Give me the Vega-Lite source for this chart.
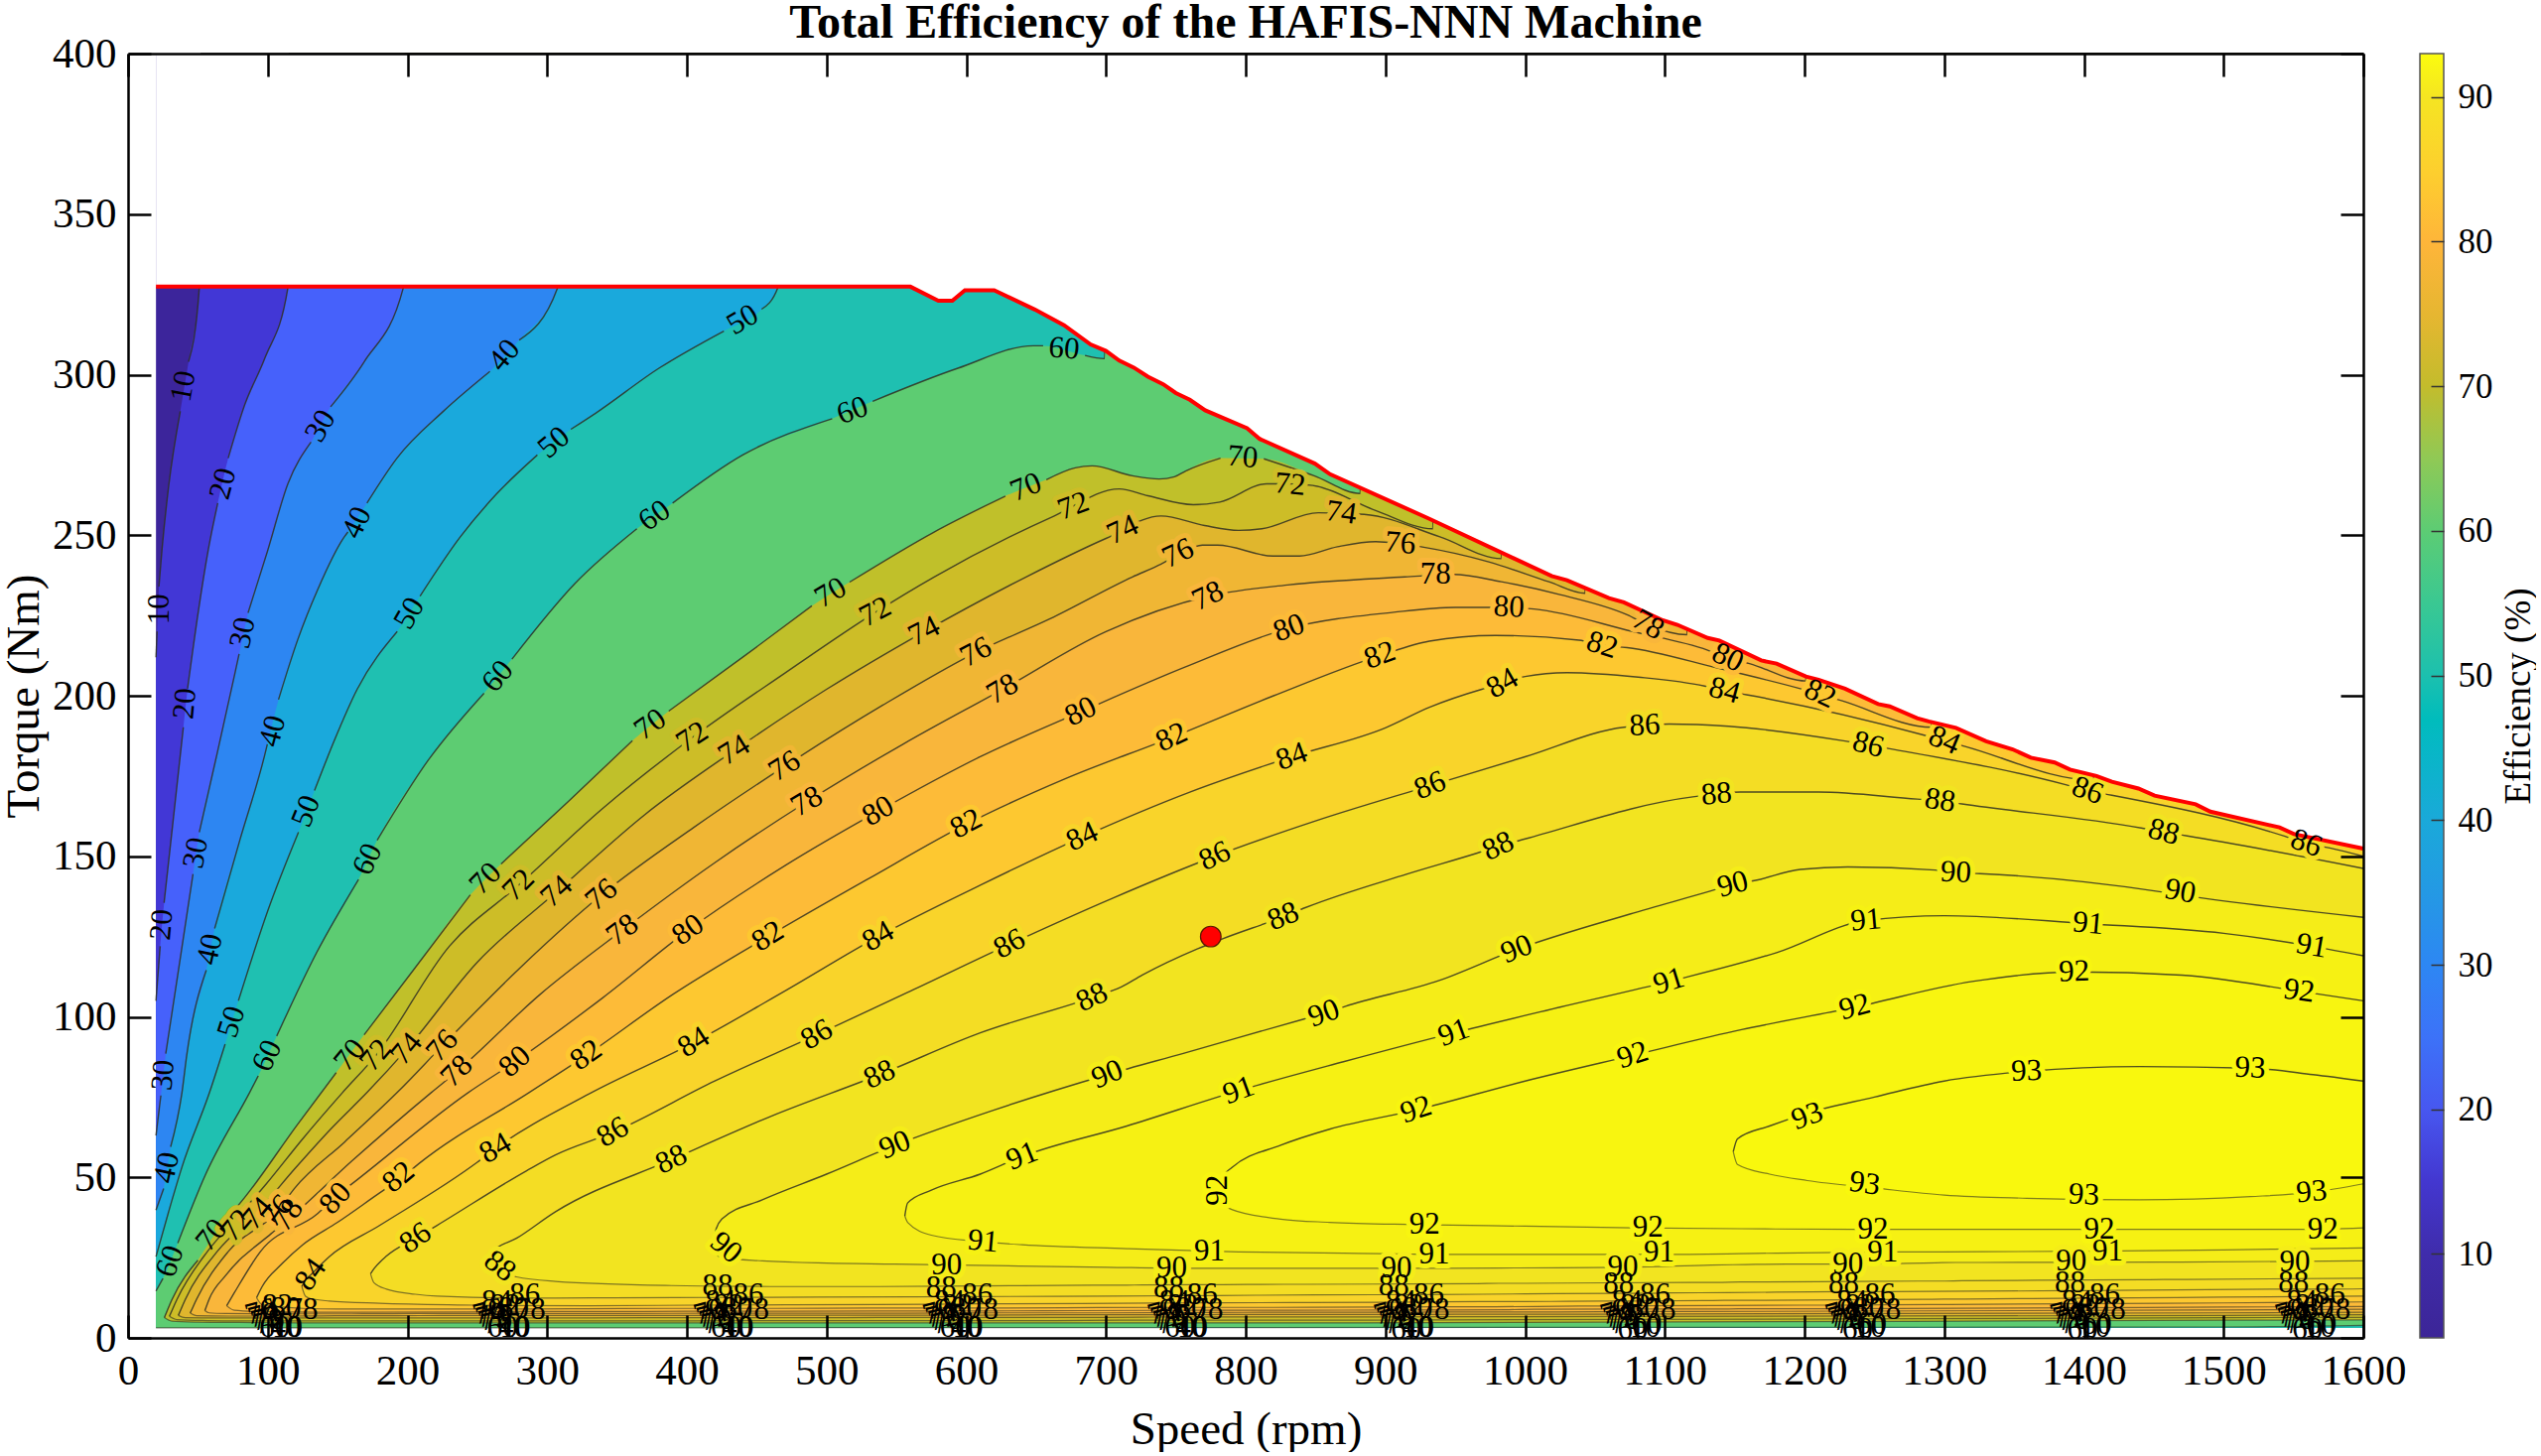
{
"$schema":"https://vega.github.io/schema/vega-lite/v6.json",
"background":"white",
"padding":{"left":0,"top":0,"right":0,"bottom":0},
"bounds":"flush",
"spacing":57,
"config":{"view":{"stroke":null},"axis":{"grid":false,"labelFont":"Liberation Serif","titleFont":"Liberation Serif","labelColor":"#000","titleColor":"#000","titleFontWeight":"normal","domainColor":"#000","tickColor":"#000","domainWidth":2.5,"tickWidth":2.5,"labelFontSize":43,"titleFontSize":47,"labelFlush":false,"labelOverlap":false,"format":"d"}},
"datasets":{
"limit":[{"speed":20,"torque":327.4},{"speed":560,"torque":327.4},{"speed":580,"torque":323},{"speed":590,"torque":323},{"speed":599,"torque":326.3},{"speed":620,"torque":326.3},{"speed":649,"torque":320.3},{"speed":670,"torque":315.4},{"speed":689,"torque":309.4},{"speed":700,"torque":307.4},{"speed":709.5,"torque":304.4},{"speed":720,"torque":302.2},{"speed":730,"torque":299.4},{"speed":741,"torque":297},{"speed":750,"torque":294.3},{"speed":760,"torque":292.2},{"speed":771,"torque":288.9},{"speed":801,"torque":283.3},{"speed":810,"torque":280},{"speed":849.5,"torque":272.3},{"speed":860.4,"torque":269},{"speed":931.5,"torque":255.1},{"speed":1019,"torque":237.3},{"speed":1030,"torque":236},{"speed":1060,"torque":230.4},{"speed":1070.7,"torque":229.1},{"speed":1098.5,"torque":223.5},{"speed":1109,"torque":222.1},{"speed":1130.7,"torque":218},{"speed":1139,"torque":217.2},{"speed":1169,"torque":211},{"speed":1180,"torque":210},{"speed":1201,"torque":206},{"speed":1210,"torque":205},{"speed":1229,"torque":202.2},{"speed":1252.7,"torque":197.4},{"speed":1261,"torque":196.7},{"speed":1280.6,"torque":193},{"speed":1289,"torque":192},{"speed":1308.4,"torque":190},{"speed":1330,"torque":185.8},{"speed":1349,"torque":183.3},{"speed":1362,"torque":180.7},{"speed":1379,"torque":179.2},{"speed":1390,"torque":177},{"speed":1409,"torque":175},{"speed":1420,"torque":173.2},{"speed":1439,"torque":171.1},{"speed":1450.6,"torque":168.9},{"speed":1480,"torque":166.2},{"speed":1490.5,"torque":163.9},{"speed":1540,"torque":159},{"speed":1550.4,"torque":156.9},{"speed":1600,"torque":152.4}],
"bands":[
{"level":0,"speed":20,"lo":3.1,"hi":400},{"level":0,"speed":1600,"lo":3.1,"hi":400},
{"level":10,"seg":0,"speed":20,"lo":3.1,"hi":212},{"level":10,"seg":0,"speed":20.8,"lo":3.1,"hi":220},{"level":10,"seg":1,"speed":22.1,"lo":3.1,"hi":234},{"level":10,"seg":1,"speed":24.4,"lo":3.1,"hi":246},{"level":10,"seg":1,"speed":29,"lo":3.1,"hi":265},{"level":10,"seg":1,"speed":37.4,"lo":3.1,"hi":288.6},{"level":10,"seg":2,"speed":43.3,"lo":3.1,"hi":304},{"level":10,"seg":2,"speed":51,"lo":3.1,"hi":327},{"level":10,"seg":2,"speed":52,"lo":3.1,"hi":400},{"level":10,"seg":2,"speed":1600,"lo":3.1,"hi":400},
{"level":20,"seg":0,"speed":20,"lo":3.1,"hi":105},{"level":20,"seg":0,"speed":23,"lo":3.1,"hi":122},{"level":20,"seg":1,"speed":25.8,"lo":3.1,"hi":135.5},{"level":20,"seg":1,"speed":32,"lo":3.1,"hi":160},{"level":20,"seg":1,"speed":37.4,"lo":3.1,"hi":181.5},{"level":20,"seg":1,"speed":39.6,"lo":3.1,"hi":190.2},{"level":20,"seg":2,"speed":42.6,"lo":3.1,"hi":202.2},{"level":20,"seg":2,"speed":50.5,"lo":3.1,"hi":226.8},{"level":20,"seg":2,"speed":57.5,"lo":3.1,"hi":245.6},{"level":20,"seg":2,"speed":64.2,"lo":3.1,"hi":260},{"level":20,"seg":3,"speed":71.7,"lo":3.1,"hi":274},{"level":20,"seg":3,"speed":83.6,"lo":3.1,"hi":290.7},{"level":20,"seg":3,"speed":97.8,"lo":3.1,"hi":305},{"level":20,"seg":3,"speed":114.4,"lo":3.1,"hi":327},{"level":20,"seg":3,"speed":115,"lo":3.1,"hi":400},{"level":20,"seg":3,"speed":1600,"lo":3.1,"hi":400},
{"level":30,"seg":0,"speed":20,"lo":3.1,"hi":63},{"level":30,"seg":0,"speed":23.5,"lo":3.1,"hi":75.5},{"level":30,"seg":1,"speed":27,"lo":3.1,"hi":88.5},{"level":30,"seg":1,"speed":38,"lo":3.1,"hi":120},{"level":30,"seg":1,"speed":46.5,"lo":3.1,"hi":144.5},{"level":30,"seg":2,"speed":51,"lo":3.1,"hi":157.5},{"level":30,"seg":2,"speed":63.5,"lo":3.1,"hi":181.5},{"level":30,"seg":2,"speed":76.5,"lo":3.1,"hi":207},{"level":30,"seg":2,"speed":79.5,"lo":3.1,"hi":213},{"level":30,"seg":3,"speed":85.9,"lo":3.1,"hi":225.8},{"level":30,"seg":3,"speed":100,"lo":3.1,"hi":245.3},{"level":30,"seg":3,"speed":114.4,"lo":3.1,"hi":266},{"level":30,"seg":3,"speed":131,"lo":3.1,"hi":279},{"level":30,"seg":4,"speed":145,"lo":3.1,"hi":290},{"level":30,"seg":4,"speed":169,"lo":3.1,"hi":304},{"level":30,"seg":4,"speed":197,"lo":3.1,"hi":327},{"level":30,"seg":4,"speed":198,"lo":3.1,"hi":400},{"level":30,"seg":4,"speed":1600,"lo":3.1,"hi":400},
{"level":40,"seg":0,"speed":20,"lo":3.1,"hi":39.8},{"level":40,"seg":0,"speed":25.5,"lo":3.1,"hi":46.5},{"level":40,"seg":1,"speed":30.5,"lo":3.1,"hi":59.5},{"level":40,"seg":1,"speed":38.6,"lo":3.1,"hi":76.4},{"level":40,"seg":1,"speed":42,"lo":3.1,"hi":88},{"level":40,"seg":1,"speed":56,"lo":3.1,"hi":114.5},{"level":40,"seg":2,"speed":62,"lo":3.1,"hi":127.5},{"level":40,"seg":2,"speed":80,"lo":3.1,"hi":155},{"level":40,"seg":2,"speed":97.8,"lo":3.1,"hi":181.5},{"level":40,"seg":2,"speed":99.7,"lo":3.1,"hi":184.9},{"level":40,"seg":3,"speed":107.7,"lo":3.1,"hi":198.8},{"level":40,"seg":3,"speed":121.5,"lo":3.1,"hi":217.5},{"level":40,"seg":3,"speed":135.7,"lo":3.1,"hi":233},{"level":40,"seg":3,"speed":154.7,"lo":3.1,"hi":249.4},{"level":40,"seg":3,"speed":157.4,"lo":3.1,"hi":251},{"level":40,"seg":4,"speed":171,"lo":3.1,"hi":260},{"level":40,"seg":4,"speed":192.5,"lo":3.1,"hi":274},{"level":40,"seg":4,"speed":225.7,"lo":3.1,"hi":288.6},{"level":40,"seg":4,"speed":259,"lo":3.1,"hi":301},{"level":40,"seg":5,"speed":280,"lo":3.1,"hi":310.8},{"level":40,"seg":5,"speed":307.4,"lo":3.1,"hi":327},{"level":40,"seg":5,"speed":308,"lo":3.1,"hi":400},{"level":40,"seg":5,"speed":1600,"lo":3.1,"hi":400},
{"level":50,"seg":0,"speed":20,"lo":3.1,"hi":25.3},{"level":50,"seg":0,"speed":29,"lo":3.1,"hi":39.2},{"level":50,"seg":0,"speed":38.6,"lo":3.1,"hi":53.2},{"level":50,"seg":0,"speed":58.3,"lo":3.1,"hi":76.4},{"level":50,"seg":0,"speed":69.5,"lo":3.1,"hi":91.5},{"level":50,"seg":1,"speed":79,"lo":3.1,"hi":105},{"level":50,"seg":1,"speed":100,"lo":3.1,"hi":133},{"level":50,"seg":1,"speed":122,"lo":3.1,"hi":157.5},{"level":50,"seg":2,"speed":133.5,"lo":3.1,"hi":170.5},{"level":50,"seg":2,"speed":147.6,"lo":3.1,"hi":186},{"level":50,"seg":2,"speed":164,"lo":3.1,"hi":202},{"level":50,"seg":2,"speed":192.7,"lo":3.1,"hi":220},{"level":50,"seg":3,"speed":209,"lo":3.1,"hi":231},{"level":50,"seg":3,"speed":237.7,"lo":3.1,"hi":249.4},{"level":50,"seg":3,"speed":263.7,"lo":3.1,"hi":262.8},{"level":50,"seg":3,"speed":293,"lo":3.1,"hi":275},{"level":50,"seg":4,"speed":317,"lo":3.1,"hi":283},{"level":50,"seg":4,"speed":334.7,"lo":3.1,"hi":288},{"level":50,"seg":4,"speed":380,"lo":3.1,"hi":302},{"level":50,"seg":4,"speed":426.5,"lo":3.1,"hi":313.6},{"level":50,"seg":5,"speed":453.5,"lo":3.1,"hi":320.4},{"level":50,"seg":5,"speed":465,"lo":3.1,"hi":327},{"level":50,"seg":5,"speed":466,"lo":3.1,"hi":400},{"level":50,"seg":5,"speed":1600,"lo":3.1,"hi":400},
{"level":60,"seg":0,"speed":20,"lo":3.1,"hi":14.6},{"level":60,"seg":0,"speed":25,"lo":3.1,"hi":18.5},{"level":60,"seg":1,"speed":35.6,"lo":3.1,"hi":29.5},{"level":60,"seg":1,"speed":55.2,"lo":3.1,"hi":50.6},{"level":60,"seg":1,"speed":87,"lo":3.1,"hi":76.4},{"level":60,"seg":1,"speed":93.2,"lo":3.1,"hi":81.6},{"level":60,"seg":2,"speed":106.4,"lo":3.1,"hi":94},{"level":60,"seg":2,"speed":135,"lo":3.1,"hi":120},{"level":60,"seg":2,"speed":165,"lo":3.1,"hi":142.8},{"level":60,"seg":3,"speed":178.3,"lo":3.1,"hi":155},{"level":60,"seg":3,"speed":215,"lo":3.1,"hi":180},{"level":60,"seg":3,"speed":254.8,"lo":3.1,"hi":200.8},{"level":60,"seg":4,"speed":274.8,"lo":3.1,"hi":211.4},{"level":60,"seg":4,"speed":320,"lo":3.1,"hi":235},{"level":60,"seg":4,"speed":364.2,"lo":3.1,"hi":252},{"level":60,"seg":5,"speed":389.8,"lo":3.1,"hi":260},{"level":60,"seg":5,"speed":440,"lo":3.2,"hi":275},{"level":60,"seg":5,"speed":504,"lo":3.2,"hi":286.3},{"level":60,"seg":6,"speed":533,"lo":3.2,"hi":291.7},{"level":60,"seg":6,"speed":594,"lo":3.2,"hi":302},{"level":60,"seg":6,"speed":648,"lo":3.2,"hi":309},{"level":60,"seg":6,"speed":655,"lo":3.2,"hi":309},{"level":60,"seg":7,"speed":685,"lo":3.2,"hi":306},{"level":60,"seg":7,"speed":699,"lo":3.2,"hi":305},{"level":60,"seg":7,"speed":701,"lo":3.2,"hi":400},{"level":60,"seg":7,"speed":1200,"lo":3.3,"hi":400},{"level":60,"seg":7,"speed":1500,"lo":3.4,"hi":400},{"level":60,"seg":7,"speed":1600,"lo":3.9,"hi":400},
{"level":70,"seg":0,"speed":26,"lo":6.3,"hi":6.3},{"level":70,"seg":0,"speed":31.4,"lo":5.2,"hi":11.9},{"level":70,"seg":0,"speed":50,"lo":4.9,"hi":24.2},{"level":70,"seg":1,"speed":70,"lo":4.8,"hi":37},{"level":70,"seg":1,"speed":78.9,"lo":4.8,"hi":41.3},{"level":70,"seg":1,"speed":121.5,"lo":4.7,"hi":66.6},{"level":70,"seg":1,"speed":149,"lo":4.7,"hi":82.6},{"level":70,"seg":2,"speed":169,"lo":4.7,"hi":94.4},{"level":70,"seg":2,"speed":205,"lo":4.7,"hi":115},{"level":70,"seg":2,"speed":245,"lo":4.7,"hi":138},{"level":70,"seg":3,"speed":267,"lo":4.7,"hi":147.6},{"level":70,"seg":3,"speed":315,"lo":4.7,"hi":167},{"level":70,"seg":3,"speed":361,"lo":4.7,"hi":186},{"level":70,"seg":4,"speed":387,"lo":4.7,"hi":195.2},{"level":70,"seg":4,"speed":440,"lo":4.7,"hi":212},{"level":70,"seg":4,"speed":489.5,"lo":4.7,"hi":228},{"level":70,"seg":5,"speed":516.5,"lo":4.7,"hi":235.4},{"level":70,"seg":5,"speed":577,"lo":4.7,"hi":251},{"level":70,"seg":5,"speed":628,"lo":4.7,"hi":262.2},{"level":70,"seg":6,"speed":657.3,"lo":4.7,"hi":267.3},{"level":70,"seg":6,"speed":678,"lo":4.7,"hi":271},{"level":70,"seg":6,"speed":690,"lo":4.7,"hi":271.6},{"level":70,"seg":6,"speed":719,"lo":4.7,"hi":268.5},{"level":70,"seg":6,"speed":738,"lo":4.7,"hi":267.5},{"level":70,"seg":6,"speed":749,"lo":4.7,"hi":268.2},{"level":70,"seg":6,"speed":757,"lo":4.7,"hi":270},{"level":70,"seg":6,"speed":782,"lo":4.7,"hi":274},{"level":70,"seg":7,"speed":813,"lo":4.7,"hi":273.8},{"level":70,"seg":7,"speed":849,"lo":4.7,"hi":268.5},{"level":70,"seg":7,"speed":882,"lo":4.7,"hi":263},{"level":70,"seg":7,"speed":883,"lo":4.7,"hi":400},{"level":70,"seg":7,"speed":1500,"lo":5.5,"hi":400},{"level":70,"seg":7,"speed":1600,"lo":5.6,"hi":400},
{"level":72,"speed":29.6,"lo":6.7,"hi":6.7},{"level":72,"speed":35,"lo":5.7,"hi":12},{"level":72,"speed":57,"lo":5.4,"hi":27},{"level":72,"speed":76.6,"lo":5.3,"hi":36.8},{"level":72,"speed":99,"lo":5.3,"hi":48},{"level":72,"speed":125,"lo":5.3,"hi":62},{"level":72,"speed":153.5,"lo":5.3,"hi":76.4},{"level":72,"speed":177.5,"lo":5.3,"hi":88},{"level":72,"speed":230,"lo":5.3,"hi":122},{"level":72,"speed":279.6,"lo":5.3,"hi":141},{"level":72,"speed":340,"lo":5.3,"hi":165},{"level":72,"speed":404,"lo":5.3,"hi":187},{"level":72,"speed":470,"lo":5.4,"hi":207},{"level":72,"speed":535,"lo":5.4,"hi":226},{"level":72,"speed":577,"lo":5.4,"hi":237},{"level":72,"speed":663,"lo":5.4,"hi":256},{"level":72,"speed":709.5,"lo":5.5,"hi":264.4},{"level":72,"speed":730,"lo":5.5,"hi":262.3},{"level":72,"speed":762.5,"lo":5.5,"hi":259.5},{"level":72,"speed":781.5,"lo":5.5,"hi":260.3},{"level":72,"speed":815,"lo":5.5,"hi":266},{"level":72,"speed":832,"lo":5.5,"hi":266},{"level":72,"speed":848,"lo":5.5,"hi":265.5},{"level":72,"speed":893,"lo":5.5,"hi":257.7},{"level":72,"speed":934,"lo":5.6,"hi":252},{"level":72,"speed":935,"lo":5.6,"hi":400},{"level":72,"speed":1500,"lo":6.3,"hi":400},{"level":72,"speed":1600,"lo":6.4,"hi":400},
{"level":74,"speed":36,"lo":7,"hi":7},{"level":74,"speed":41,"lo":6.3,"hi":12},{"level":74,"speed":64,"lo":6.2,"hi":27},{"level":74,"speed":92,"lo":6.2,"hi":38.9},{"level":74,"speed":120,"lo":6.2,"hi":53},{"level":74,"speed":145,"lo":6.2,"hi":65},{"level":74,"speed":171,"lo":6.2,"hi":76.4},{"level":74,"speed":199.6,"lo":6.2,"hi":90},{"level":74,"speed":250,"lo":6.2,"hi":117},{"level":74,"speed":307,"lo":6.2,"hi":139},{"level":74,"speed":370,"lo":6.3,"hi":163},{"level":74,"speed":434,"lo":6.3,"hi":183},{"level":74,"speed":500,"lo":6.3,"hi":202},{"level":74,"speed":570,"lo":6.4,"hi":220},{"level":74,"speed":642.8,"lo":6.4,"hi":237},{"level":74,"speed":700,"lo":6.4,"hi":249},{"level":74,"speed":739.4,"lo":6.5,"hi":256},{"level":74,"speed":770.6,"lo":6.5,"hi":253},{"level":74,"speed":795,"lo":6.5,"hi":251.5},{"level":74,"speed":811.6,"lo":6.5,"hi":252},{"level":74,"speed":852,"lo":6.5,"hi":257},{"level":74,"speed":884.8,"lo":6.5,"hi":256.5},{"level":74,"speed":939,"lo":6.6,"hi":249.5},{"level":74,"speed":983,"lo":6.6,"hi":242.7},{"level":74,"speed":984,"lo":6.6,"hi":400},{"level":74,"speed":1500,"lo":7,"hi":400},{"level":74,"speed":1600,"lo":7.2,"hi":400},
{"level":76,"speed":44.5,"lo":7.7,"hi":7.7},{"level":76,"speed":49,"lo":6.9,"hi":12},{"level":76,"speed":72,"lo":6.8,"hi":27},{"level":76,"speed":107,"lo":6.8,"hi":39.5},{"level":76,"speed":119,"lo":6.8,"hi":46.5},{"level":76,"speed":155,"lo":6.9,"hi":61},{"level":76,"speed":192.6,"lo":6.9,"hi":76.4},{"level":76,"speed":225,"lo":7,"hi":91},{"level":76,"speed":280,"lo":7,"hi":115},{"level":76,"speed":339,"lo":7,"hi":138},{"level":76,"speed":405,"lo":7,"hi":159},{"level":76,"speed":470,"lo":7.1,"hi":178},{"level":76,"speed":540,"lo":7.1,"hi":197},{"level":76,"speed":607,"lo":7.1,"hi":213.5},{"level":76,"speed":660,"lo":7.2,"hi":224},{"level":76,"speed":718.9,"lo":7.2,"hi":237},{"level":76,"speed":739.4,"lo":7.2,"hi":241},{"level":76,"speed":752,"lo":7.2,"hi":244},{"level":76,"speed":769,"lo":7.2,"hi":246.9},{"level":76,"speed":780,"lo":7.3,"hi":246.9},{"level":76,"speed":819.6,"lo":7.3,"hi":243.5},{"level":76,"speed":838.5,"lo":7.3,"hi":243.5},{"level":76,"speed":865.7,"lo":7.3,"hi":246.4},{"level":76,"speed":893,"lo":7.3,"hi":248},{"level":76,"speed":910,"lo":7.3,"hi":247.4},{"level":76,"speed":925.5,"lo":7.3,"hi":246.4},{"level":76,"speed":974,"lo":7.4,"hi":241.7},{"level":76,"speed":1017,"lo":7.4,"hi":235.5},{"level":76,"speed":1043,"lo":7.4,"hi":231.9},{"level":76,"speed":1044,"lo":7.4,"hi":400},{"level":76,"speed":1500,"lo":7.8,"hi":400},{"level":76,"speed":1600,"lo":8,"hi":400},
{"level":78,"speed":55,"lo":8.5,"hi":8.5},{"level":78,"speed":58,"lo":7.8,"hi":12},{"level":78,"speed":70,"lo":7.6,"hi":19.5},{"level":78,"speed":102.5,"lo":7.5,"hi":32.5},{"level":78,"speed":115,"lo":7.5,"hi":37},{"level":78,"speed":160,"lo":7.5,"hi":55},{"level":78,"speed":217,"lo":7.6,"hi":76.4},{"level":78,"speed":235.5,"lo":7.6,"hi":83},{"level":78,"speed":295,"lo":7.6,"hi":107},{"level":78,"speed":354,"lo":7.6,"hi":127},{"level":78,"speed":420,"lo":7.7,"hi":148},{"level":78,"speed":486,"lo":7.7,"hi":167},{"level":78,"speed":555,"lo":7.7,"hi":185},{"level":78,"speed":626,"lo":7.8,"hi":202},{"level":78,"speed":700,"lo":7.8,"hi":220},{"level":78,"speed":773,"lo":7.9,"hi":231},{"level":78,"speed":830,"lo":8,"hi":234.5},{"level":78,"speed":914,"lo":8,"hi":237},{"level":78,"speed":948.6,"lo":8.1,"hi":237.8},{"level":78,"speed":983,"lo":8.1,"hi":235.5},{"level":78,"speed":1025.7,"lo":8.1,"hi":231.4},{"level":78,"speed":1073,"lo":8.2,"hi":225.2},{"level":78,"speed":1088,"lo":8.2,"hi":222},{"level":78,"speed":1116,"lo":8.2,"hi":219},{"level":78,"speed":1117,"lo":8.2,"hi":400},{"level":78,"speed":1500,"lo":8.7,"hi":400},{"level":78,"speed":1600,"lo":8.9,"hi":400},
{"level":80,"speed":70.6,"lo":10,"hi":10},{"level":80,"speed":76,"lo":8.6,"hi":14},{"level":80,"speed":95,"lo":8.2,"hi":27},{"level":80,"speed":135.7,"lo":8,"hi":38.7},{"level":80,"speed":148.5,"lo":8,"hi":44},{"level":80,"speed":161.8,"lo":8,"hi":48.5},{"level":80,"speed":243.5,"lo":8.1,"hi":76.4},{"level":80,"speed":277,"lo":8.2,"hi":86},{"level":80,"speed":340,"lo":8.2,"hi":106},{"level":80,"speed":401,"lo":8.3,"hi":127},{"level":80,"speed":470,"lo":8.3,"hi":147},{"level":80,"speed":537,"lo":8.4,"hi":164},{"level":80,"speed":610,"lo":8.4,"hi":181},{"level":80,"speed":682,"lo":8.5,"hi":195},{"level":80,"speed":757,"lo":8.6,"hi":209},{"level":80,"speed":831,"lo":8.6,"hi":221},{"level":80,"speed":906,"lo":8.7,"hi":226},{"level":80,"speed":950,"lo":8.7,"hi":227.5},{"level":80,"speed":988.5,"lo":8.8,"hi":227.5},{"level":80,"speed":1006.5,"lo":8.9,"hi":227},{"level":80,"speed":1077,"lo":9,"hi":220},{"level":80,"speed":1130.7,"lo":9,"hi":214.2},{"level":80,"speed":1145,"lo":9,"hi":211.8},{"level":80,"speed":1160.6,"lo":9.1,"hi":210},{"level":80,"speed":1201,"lo":9.1,"hi":204.6},{"level":80,"speed":1202,"lo":9.1,"hi":400},{"level":80,"speed":1500,"lo":9.6,"hi":400},{"level":80,"speed":1600,"lo":9.8,"hi":400},
{"level":82,"speed":92,"lo":12.5,"hi":12.5},{"level":82,"speed":96,"lo":10.3,"hi":16},{"level":82,"speed":110,"lo":9.6,"hi":23},{"level":82,"speed":125,"lo":9.2,"hi":29},{"level":82,"speed":150,"lo":9,"hi":36},{"level":82,"speed":183,"lo":9,"hi":46},{"level":82,"speed":195,"lo":9,"hi":49.5},{"level":82,"speed":208,"lo":9,"hi":54.2},{"level":82,"speed":287,"lo":9,"hi":76.4},{"level":82,"speed":328,"lo":9.1,"hi":88},{"level":82,"speed":390,"lo":9.2,"hi":107},{"level":82,"speed":458,"lo":9.2,"hi":125},{"level":82,"speed":530,"lo":9.3,"hi":143},{"level":82,"speed":600,"lo":9.3,"hi":160},{"level":82,"speed":670,"lo":9.4,"hi":174},{"level":82,"speed":747,"lo":9.5,"hi":187},{"level":82,"speed":820,"lo":9.5,"hi":200},{"level":82,"speed":896,"lo":9.6,"hi":212.5},{"level":82,"speed":931.5,"lo":9.7,"hi":217},{"level":82,"speed":978.6,"lo":9.7,"hi":218.8},{"level":82,"speed":1038.6,"lo":9.9,"hi":217.3},{"level":82,"speed":1055,"lo":9.9,"hi":215.7},{"level":82,"speed":1073,"lo":10,"hi":215},{"level":82,"speed":1137,"lo":10.1,"hi":208.7},{"level":82,"speed":1197,"lo":10.2,"hi":202.2},{"level":82,"speed":1211,"lo":10.2,"hi":200.5},{"level":82,"speed":1227,"lo":10.2,"hi":198.4},{"level":82,"speed":1291,"lo":10.4,"hi":190.2},{"level":82,"speed":1292,"lo":10.4,"hi":400},{"level":82,"speed":1500,"lo":10.9,"hi":400},{"level":82,"speed":1600,"lo":11.2,"hi":400},
{"level":84,"speed":124.4,"lo":16,"hi":16},{"level":84,"speed":127,"lo":13,"hi":18},{"level":84,"speed":131,"lo":12.2,"hi":19.7},{"level":84,"speed":144,"lo":11.5,"hi":25.3},{"level":84,"speed":180,"lo":10.8,"hi":35},{"level":84,"speed":250,"lo":10.2,"hi":54.7},{"level":84,"speed":263,"lo":10.1,"hi":59},{"level":84,"speed":330,"lo":10,"hi":76},{"level":84,"speed":405,"lo":10.2,"hi":92},{"level":84,"speed":470,"lo":10.3,"hi":108},{"level":84,"speed":537,"lo":10.4,"hi":125},{"level":84,"speed":610,"lo":10.6,"hi":141},{"level":84,"speed":683,"lo":10.7,"hi":156},{"level":84,"speed":760,"lo":10.9,"hi":170},{"level":84,"speed":833,"lo":11,"hi":181},{"level":84,"speed":900,"lo":11.1,"hi":190},{"level":84,"speed":931.5,"lo":11.2,"hi":196.4},{"level":84,"speed":969,"lo":11.3,"hi":202},{"level":84,"speed":984,"lo":11.3,"hi":203.8},{"level":84,"speed":1000,"lo":11.3,"hi":206},{"level":84,"speed":1030,"lo":11.4,"hi":207.2},{"level":84,"speed":1081,"lo":11.5,"hi":205.8},{"level":84,"speed":1128.5,"lo":11.6,"hi":203},{"level":84,"speed":1142.6,"lo":11.7,"hi":201.5},{"level":84,"speed":1158.5,"lo":11.7,"hi":200.3},{"level":84,"speed":1285,"lo":12,"hi":187.8},{"level":84,"speed":1300,"lo":12.1,"hi":186},{"level":84,"speed":1315,"lo":12.1,"hi":184.2},{"level":84,"speed":1407,"lo":12.4,"hi":173.7},{"level":84,"speed":1408,"lo":12.4,"hi":400},{"level":84,"speed":1500,"lo":12.7,"hi":400},{"level":84,"speed":1600,"lo":13,"hi":400},
{"level":86,"speed":173.6,"lo":20,"hi":20},{"level":86,"speed":176,"lo":17.2,"hi":21.5},{"level":86,"speed":185,"lo":15.2,"hi":25.5},{"level":86,"speed":205.6,"lo":13.6,"hi":31},{"level":86,"speed":221,"lo":13,"hi":35},{"level":86,"speed":285,"lo":12.4,"hi":52},{"level":86,"speed":306,"lo":12.4,"hi":57},{"level":86,"speed":347,"lo":12.5,"hi":64},{"level":86,"speed":420,"lo":12.6,"hi":80},{"level":86,"speed":493,"lo":12.7,"hi":94.4},{"level":86,"speed":560,"lo":12.8,"hi":108},{"level":86,"speed":631,"lo":12.9,"hi":122.6},{"level":86,"speed":705,"lo":13,"hi":137},{"level":86,"speed":778,"lo":13.2,"hi":150},{"level":86,"speed":850,"lo":13.4,"hi":161},{"level":86,"speed":932,"lo":13.5,"hi":172},{"level":86,"speed":1000,"lo":13.7,"hi":181},{"level":86,"speed":1070.7,"lo":13.9,"hi":190.2},{"level":86,"speed":1086,"lo":13.9,"hi":190.7},{"level":86,"speed":1103,"lo":14,"hi":191.2},{"level":86,"speed":1145.7,"lo":14.1,"hi":190.5},{"level":86,"speed":1229,"lo":14.4,"hi":185.9},{"level":86,"speed":1245.5,"lo":14.4,"hi":184.7},{"level":86,"speed":1261,"lo":14.4,"hi":183.5},{"level":86,"speed":1387.6,"lo":14.7,"hi":172.2},{"level":86,"speed":1402.6,"lo":14.7,"hi":170.4},{"level":86,"speed":1420,"lo":14.8,"hi":169},{"level":86,"speed":1544,"lo":15.2,"hi":156.2},{"level":86,"speed":1559,"lo":15.2,"hi":154},{"level":86,"speed":1576,"lo":15.2,"hi":152.6},{"level":86,"speed":1600,"lo":15.3,"hi":150},
{"level":88,"speed":258,"lo":25,"hi":25},{"level":88,"speed":261,"lo":22,"hi":26.9},{"level":88,"speed":278,"lo":19,"hi":31},{"level":88,"speed":306,"lo":17.6,"hi":39.3},{"level":88,"speed":389,"lo":16.3,"hi":55.5},{"level":88,"speed":460,"lo":16,"hi":69},{"level":88,"speed":538,"lo":16,"hi":82},{"level":88,"speed":610,"lo":16.2,"hi":95},{"level":88,"speed":690,"lo":16.4,"hi":106},{"level":88,"speed":711,"lo":16.4,"hi":109.3},{"level":88,"speed":726,"lo":16.5,"hi":113},{"level":88,"speed":765.7,"lo":16.6,"hi":121.2},{"level":88,"speed":783.5,"lo":16.6,"hi":124.3},{"level":88,"speed":827,"lo":16.7,"hi":131.2},{"level":88,"speed":842.7,"lo":16.7,"hi":134},{"level":88,"speed":915,"lo":16.8,"hi":144.4},{"level":88,"speed":965.8,"lo":16.9,"hi":151},{"level":88,"speed":981,"lo":17,"hi":153.1},{"level":88,"speed":1000,"lo":17,"hi":155.4},{"level":88,"speed":1120,"lo":17.3,"hi":168.5},{"level":88,"speed":1137,"lo":17.3,"hi":169.3},{"level":88,"speed":1154,"lo":17.4,"hi":170},{"level":88,"speed":1210,"lo":17.5,"hi":170},{"level":88,"speed":1280.6,"lo":17.7,"hi":167.8},{"level":88,"speed":1297,"lo":17.7,"hi":167.3},{"level":88,"speed":1312.7,"lo":17.8,"hi":166.3},{"level":88,"speed":1441,"lo":18.1,"hi":158.8},{"level":88,"speed":1457,"lo":18.2,"hi":157.5},{"level":88,"speed":1473,"lo":18.2,"hi":156.4},{"level":88,"speed":1600,"lo":18.6,"hi":146.2},
{"level":90,"speed":419,"lo":30,"hi":30},{"level":90,"speed":421,"lo":26,"hi":34},{"level":90,"speed":425,"lo":25,"hi":37},{"level":90,"speed":454,"lo":24,"hi":43},{"level":90,"speed":500,"lo":23.3,"hi":51},{"level":90,"speed":549,"lo":23,"hi":60},{"level":90,"speed":620,"lo":22.5,"hi":71},{"level":90,"speed":701,"lo":22,"hi":82},{"level":90,"speed":756,"lo":21.7,"hi":88.7},{"level":90,"speed":841.7,"lo":21.7,"hi":99.3},{"level":90,"speed":856,"lo":21.7,"hi":101},{"level":90,"speed":871,"lo":21.7,"hi":103.2},{"level":90,"speed":939,"lo":21.7,"hi":111.4},{"level":90,"speed":994,"lo":21.8,"hi":121},{"level":90,"speed":1075,"lo":22,"hi":132},{"level":90,"speed":1133,"lo":22.7,"hi":139.2},{"level":90,"speed":1148.7,"lo":22.8,"hi":141.2},{"level":90,"speed":1165,"lo":22.9,"hi":142.5},{"level":90,"speed":1197,"lo":23,"hi":145.9},{"level":90,"speed":1231,"lo":23,"hi":146.7},{"level":90,"speed":1293.5,"lo":23.4,"hi":145.7},{"level":90,"speed":1308.4,"lo":23.5,"hi":144.9},{"level":90,"speed":1325.6,"lo":23.5,"hi":144.6},{"level":90,"speed":1454,"lo":23.6,"hi":139},{"level":90,"speed":1469,"lo":23.6,"hi":138},{"level":90,"speed":1600,"lo":24,"hi":131},
{"level":91,"speed":556,"lo":38,"hi":38},{"level":91,"speed":558,"lo":36,"hi":42},{"level":91,"speed":575,"lo":32,"hi":46},{"level":91,"speed":610,"lo":30,"hi":51},{"level":91,"speed":640,"lo":29,"hi":56.5},{"level":91,"speed":715,"lo":27.8,"hi":66},{"level":91,"speed":795,"lo":26.8,"hi":77},{"level":91,"speed":870,"lo":26.4,"hi":86},{"level":91,"speed":949,"lo":26,"hi":95},{"level":91,"speed":1025,"lo":26,"hi":103},{"level":91,"speed":1103,"lo":26,"hi":111},{"level":91,"speed":1180,"lo":26.4,"hi":120},{"level":91,"speed":1244,"lo":26.7,"hi":130},{"level":91,"speed":1300,"lo":26.8,"hi":131.5},{"level":91,"speed":1403,"lo":27,"hi":129},{"level":91,"speed":1500,"lo":27.4,"hi":126},{"level":91,"speed":1563,"lo":27.8,"hi":122},{"level":91,"speed":1600,"lo":28,"hi":119},
{"level":92,"speed":780,"lo":46,"hi":46},{"level":92,"speed":783,"lo":42,"hi":50},{"level":92,"speed":790,"lo":40,"hi":53},{"level":92,"speed":825,"lo":37,"hi":60},{"level":92,"speed":860,"lo":36,"hi":65},{"level":92,"speed":922,"lo":35.3,"hi":71},{"level":92,"speed":1000,"lo":34.8,"hi":80},{"level":92,"speed":1077,"lo":34.3,"hi":88},{"level":92,"speed":1155,"lo":34,"hi":96},{"level":92,"speed":1236,"lo":33.8,"hi":103},{"level":92,"speed":1320,"lo":33.8,"hi":111},{"level":92,"speed":1393,"lo":33.8,"hi":114},{"level":92,"speed":1470,"lo":33.8,"hi":113},{"level":92,"speed":1554,"lo":33.8,"hi":108},{"level":92,"speed":1600,"lo":34.3,"hi":105},
{"level":93,"speed":1149,"lo":58,"hi":58},{"level":93,"speed":1152,"lo":54,"hi":62},{"level":93,"speed":1175,"lo":51,"hi":66},{"level":93,"speed":1202,"lo":49,"hi":70},{"level":93,"speed":1250,"lo":46.7,"hi":75},{"level":93,"speed":1300,"lo":44.5,"hi":80},{"level":93,"speed":1359,"lo":43.5,"hi":83},{"level":93,"speed":1440,"lo":43,"hi":84.5},{"level":93,"speed":1519,"lo":44,"hi":84},{"level":93,"speed":1564,"lo":45.4,"hi":82},{"level":93,"speed":1600,"lo":48,"hi":80}
],
"labels":[
{"level":10,"speed":39.8,"torque":296.4,"tilt":-80},{"level":10,"speed":22.5,"torque":227,"tilt":-90},
{"level":20,"speed":68.2,"torque":266,"tilt":-75},{"level":20,"speed":41,"torque":197.5,"tilt":-85},{"level":20,"speed":24.4,"torque":128.7,"tilt":-85},
{"level":30,"speed":138,"torque":284,"tilt":-60},{"level":30,"speed":82.4,"torque":219.6,"tilt":-78},{"level":30,"speed":48.8,"torque":151,"tilt":-80},{"level":30,"speed":25.5,"torque":81.8,"tilt":-85},
{"level":40,"speed":269.5,"torque":306,"tilt":-50},{"level":40,"speed":164,"torque":253.9,"tilt":-65},{"level":40,"speed":103.7,"torque":189,"tilt":-75},{"level":40,"speed":59,"torque":121,"tilt":-78},{"level":40,"speed":28,"torque":53,"tilt":-78},
{"level":50,"speed":440,"torque":317,"tilt":-30},{"level":50,"speed":305,"torque":278.8,"tilt":-40},{"level":50,"speed":201.5,"torque":225.6,"tilt":-60},{"level":50,"speed":127.6,"torque":164,"tilt":-68},{"level":50,"speed":74.3,"torque":98.4,"tilt":-72},
{"level":60,"speed":670,"torque":308,"tilt":5},{"level":60,"speed":518.6,"torque":288.7,"tilt":-20},{"level":60,"speed":377,"torque":256,"tilt":-35},{"level":60,"speed":264.8,"torque":206,"tilt":-50},{"level":60,"speed":171.7,"torque":149,"tilt":-65},{"level":60,"speed":99.8,"torque":87.8,"tilt":-65},{"level":60,"speed":30.3,"torque":23.8,"tilt":-70},
{"level":70,"speed":60,"torque":32,"tilt":-50},{"level":70,"speed":159,"torque":88,"tilt":-50},{"level":70,"speed":256,"torque":143,"tilt":-45},{"level":70,"speed":374,"torque":191,"tilt":-35},{"level":70,"speed":503,"torque":232,"tilt":-30},{"level":70,"speed":642.8,"torque":264.9,"tilt":-22},{"level":70,"speed":797.8,"torque":274.2,"tilt":5},
{"level":72,"speed":77.7,"torque":35,"tilt":-50},{"level":72,"speed":177.5,"torque":88,"tilt":-50},{"level":72,"speed":279.6,"torque":141,"tilt":-45},{"level":72,"speed":404,"torque":187,"tilt":-33},{"level":72,"speed":535,"torque":226,"tilt":-28},{"level":72,"speed":676.7,"torque":259,"tilt":-20},{"level":72,"speed":831.8,"torque":265.7,"tilt":5},
{"level":74,"speed":93,"torque":38.7,"tilt":-50},{"level":74,"speed":199.6,"torque":90,"tilt":-50},{"level":74,"speed":307,"torque":139,"tilt":-42},{"level":74,"speed":434,"torque":183,"tilt":-32},{"level":74,"speed":570,"torque":220,"tilt":-27},{"level":74,"speed":712,"torque":251.6,"tilt":-25},{"level":74,"speed":868.4,"torque":256.9,"tilt":8},
{"level":76,"speed":107,"torque":39.5,"tilt":-50},{"level":76,"speed":225,"torque":91,"tilt":-48},{"level":76,"speed":339,"torque":138,"tilt":-40},{"level":76,"speed":470,"torque":178,"tilt":-32},{"level":76,"speed":607,"torque":213.5,"tilt":-28},{"level":76,"speed":751.6,"torque":244.3,"tilt":-25},{"level":76,"speed":910.6,"torque":247.4,"tilt":5},
{"level":78,"speed":114.4,"torque":38.2,"tilt":-55},{"level":78,"speed":235.5,"torque":83,"tilt":-45},{"level":78,"speed":354,"torque":127,"tilt":-37},{"level":78,"speed":486,"torque":167,"tilt":-30},{"level":78,"speed":626,"torque":202,"tilt":-30},{"level":78,"speed":773,"torque":231,"tilt":-25},{"level":78,"speed":935.8,"torque":237.6,"tilt":0},{"level":78,"speed":1088,"torque":222,"tilt":30},
{"level":80,"speed":148.7,"torque":43.4,"tilt":-48},{"level":80,"speed":277,"torque":86,"tilt":-42},{"level":80,"speed":401,"torque":127,"tilt":-35},{"level":80,"speed":537,"torque":164,"tilt":-30},{"level":80,"speed":682,"torque":195,"tilt":-27},{"level":80,"speed":831,"torque":221,"tilt":-20},{"level":80,"speed":988.5,"torque":227.5,"tilt":3},{"level":80,"speed":1145,"torque":211.8,"tilt":25},
{"level":82,"speed":193.7,"torque":50,"tilt":-40},{"level":82,"speed":328,"torque":88,"tilt":-35},{"level":82,"speed":458,"torque":125,"tilt":-32},{"level":82,"speed":600,"torque":160,"tilt":-28},{"level":82,"speed":747,"torque":187,"tilt":-25},{"level":82,"speed":896,"torque":212.5,"tilt":-20},{"level":82,"speed":1055,"torque":215.7,"tilt":18},{"level":82,"speed":1211,"torque":200.5,"tilt":25},
{"level":84,"speed":131,"torque":19.7,"tilt":-55},{"level":84,"speed":263,"torque":59,"tilt":-30},{"level":84,"speed":405,"torque":92,"tilt":-33},{"level":84,"speed":537,"torque":125,"tilt":-30},{"level":84,"speed":683,"torque":156,"tilt":-25},{"level":84,"speed":833,"torque":181,"tilt":-20},{"level":84,"speed":983.8,"torque":203.8,"tilt":-30},{"level":84,"speed":1142.6,"torque":201.5,"tilt":15},{"level":84,"speed":1300,"torque":186,"tilt":23},
{"level":86,"speed":205.8,"torque":31,"tilt":-35},{"level":86,"speed":347,"torque":64,"tilt":-30},{"level":86,"speed":493,"torque":94.4,"tilt":-30},{"level":86,"speed":631,"torque":122.6,"tilt":-28},{"level":86,"speed":778,"torque":150,"tilt":-25},{"level":86,"speed":932,"torque":172,"tilt":-22},{"level":86,"speed":1085.7,"torque":190.7,"tilt":-3},{"level":86,"speed":1245.5,"torque":184.7,"tilt":15},{"level":86,"speed":1402.6,"torque":170.4,"tilt":20},{"level":86,"speed":1559,"torque":154,"tilt":20},
{"level":88,"speed":266,"torque":22.3,"tilt":38},{"level":88,"speed":389,"torque":55.5,"tilt":-25},{"level":88,"speed":538,"torque":82,"tilt":-25},{"level":88,"speed":690,"torque":106,"tilt":-25},{"level":88,"speed":827,"torque":131.2,"tilt":-22},{"level":88,"speed":980.8,"torque":153.1,"tilt":-25},{"level":88,"speed":1137,"torque":169.3,"tilt":-5},{"level":88,"speed":1297,"torque":167.3,"tilt":8},{"level":88,"speed":1457,"torque":157.5,"tilt":15},
{"level":90,"speed":428,"torque":28,"tilt":40},{"level":90,"speed":549,"torque":60,"tilt":-22},{"level":90,"speed":701,"torque":82,"tilt":-22},{"level":90,"speed":856,"torque":101,"tilt":-20},{"level":90,"speed":994,"torque":121,"tilt":-22},{"level":90,"speed":1148.7,"torque":141.2,"tilt":-15},{"level":90,"speed":1308.4,"torque":144.9,"tilt":3},{"level":90,"speed":1469,"torque":139,"tilt":10},
{"level":91,"speed":640,"torque":56.5,"tilt":-22},{"level":91,"speed":795,"torque":77,"tilt":-20},{"level":91,"speed":949,"torque":95,"tilt":-20},{"level":91,"speed":1103,"torque":111,"tilt":-17},{"level":91,"speed":1244,"torque":130,"tilt":-5},{"level":91,"speed":1403,"torque":129,"tilt":5},{"level":91,"speed":1563,"torque":122,"tilt":10},{"level":91,"speed":612,"torque":30,"tilt":5},{"level":91,"speed":774,"torque":27,"tilt":0},{"level":91,"speed":935,"torque":26,"tilt":0},{"level":91,"speed":1096,"torque":26.7,"tilt":0},{"level":91,"speed":1256,"torque":26.7,"tilt":0},{"level":91,"speed":1417,"torque":27,"tilt":0},
{"level":92,"speed":780,"torque":46,"tilt":-90},{"level":92,"speed":922,"torque":71,"tilt":-18},{"level":92,"speed":1077,"torque":88,"tilt":-18},{"level":92,"speed":1236,"torque":103,"tilt":-15},{"level":92,"speed":1393,"torque":114,"tilt":-2},{"level":92,"speed":1554,"torque":108,"tilt":8},{"level":92,"speed":928,"torque":35.3,"tilt":0},{"level":92,"speed":1088,"torque":34.3,"tilt":0},{"level":92,"speed":1249,"torque":33.8,"tilt":0},{"level":92,"speed":1411,"torque":33.8,"tilt":0},{"level":92,"speed":1571,"torque":33.8,"tilt":0},
{"level":93,"speed":1202,"torque":69,"tilt":-20},{"level":93,"speed":1359,"torque":83,"tilt":-2},{"level":93,"speed":1519,"torque":84,"tilt":3},{"level":93,"speed":1243,"torque":48,"tilt":8},{"level":93,"speed":1400,"torque":44.5,"tilt":3},{"level":93,"speed":1563,"torque":45.4,"tilt":-5},
{"level":90,"speed":586,"torque":22.7,"tilt":0},{"level":90,"speed":747,"torque":21.7,"tilt":0},{"level":90,"speed":908,"torque":21.7,"tilt":0},{"level":90,"speed":1070,"torque":22,"tilt":0},{"level":90,"speed":1231,"torque":23,"tilt":0},{"level":90,"speed":1391,"torque":23.7,"tilt":0},{"level":90,"speed":1551,"torque":23.6,"tilt":0}
],
"bottom_labels":[
{"level":88,"speed":422,"torque":16,"tilt":0},{"level":88,"speed":582,"torque":15.6,"tilt":0},{"level":88,"speed":745,"torque":15.6,"tilt":0},{"level":88,"speed":906,"torque":16,"tilt":0},{"level":88,"speed":1067,"torque":16.6,"tilt":0},{"level":88,"speed":1228,"torque":16.6,"tilt":0},{"level":88,"speed":1390,"torque":17,"tilt":0},{"level":88,"speed":1550,"torque":17,"tilt":0},
{"level":82,"speed":107,"torque":10,"tilt":0},{"level":80,"speed":113,"torque":9,"tilt":0},{"level":78,"speed":125,"torque":8.6,"tilt":0},{"level":76,"speed":95,"torque":8,"tilt":-15},{"level":74,"speed":97,"torque":7,"tilt":-15},{"level":72,"speed":99,"torque":6,"tilt":-15},{"level":70,"speed":101,"torque":5,"tilt":-15},{"level":60,"speed":105,"torque":3,"tilt":0},{"level":40,"speed":113,"torque":3,"tilt":0},{"level":10,"speed":114,"torque":3,"tilt":0},
{"level":86,"speed":284,"torque":13.3,"tilt":0},{"level":84,"speed":264,"torque":11.1,"tilt":0},{"level":82,"speed":270,"torque":10,"tilt":0},{"level":80,"speed":276,"torque":9,"tilt":0},{"level":78,"speed":288,"torque":8.6,"tilt":0},{"level":76,"speed":258,"torque":8,"tilt":-15},{"level":74,"speed":260,"torque":7,"tilt":-15},{"level":72,"speed":262,"torque":6,"tilt":-15},{"level":70,"speed":264,"torque":5,"tilt":-15},{"level":60,"speed":268,"torque":3,"tilt":0},{"level":40,"speed":276,"torque":3,"tilt":0},{"level":10,"speed":277,"torque":3,"tilt":0},
{"level":86,"speed":444,"torque":13.3,"tilt":0},{"level":84,"speed":424,"torque":11.1,"tilt":0},{"level":82,"speed":430,"torque":10,"tilt":0},{"level":80,"speed":436,"torque":9,"tilt":0},{"level":78,"speed":448,"torque":8.6,"tilt":0},{"level":76,"speed":416,"torque":8,"tilt":-15},{"level":74,"speed":418,"torque":7,"tilt":-15},{"level":72,"speed":420,"torque":6,"tilt":-15},{"level":70,"speed":422,"torque":5,"tilt":-15},{"level":60,"speed":428,"torque":3,"tilt":0},{"level":40,"speed":436,"torque":3,"tilt":0},{"level":10,"speed":437,"torque":3,"tilt":0},
{"level":86,"speed":608,"torque":13.3,"tilt":0},{"level":84,"speed":588,"torque":11.1,"tilt":0},{"level":82,"speed":594,"torque":10,"tilt":0},{"level":80,"speed":600,"torque":9,"tilt":0},{"level":78,"speed":612,"torque":8.6,"tilt":0},{"level":76,"speed":580,"torque":8,"tilt":-15},{"level":74,"speed":582,"torque":7,"tilt":-15},{"level":72,"speed":584,"torque":6,"tilt":-15},{"level":70,"speed":586,"torque":5,"tilt":-15},{"level":60,"speed":592,"torque":3,"tilt":0},{"level":40,"speed":600,"torque":3,"tilt":0},{"level":10,"speed":601,"torque":3,"tilt":0},
{"level":86,"speed":769,"torque":13.3,"tilt":0},{"level":84,"speed":749,"torque":11.1,"tilt":0},{"level":82,"speed":755,"torque":10,"tilt":0},{"level":80,"speed":761,"torque":9,"tilt":0},{"level":78,"speed":773,"torque":8.6,"tilt":0},{"level":76,"speed":741,"torque":8,"tilt":-15},{"level":74,"speed":743,"torque":7,"tilt":-15},{"level":72,"speed":745,"torque":6,"tilt":-15},{"level":70,"speed":747,"torque":5,"tilt":-15},{"level":60,"speed":753,"torque":3,"tilt":0},{"level":40,"speed":761,"torque":3,"tilt":0},{"level":10,"speed":762,"torque":3,"tilt":0},
{"level":86,"speed":931,"torque":13.3,"tilt":0},{"level":84,"speed":911,"torque":11.1,"tilt":0},{"level":82,"speed":917,"torque":10,"tilt":0},{"level":80,"speed":923,"torque":9,"tilt":0},{"level":78,"speed":935,"torque":8.6,"tilt":0},{"level":76,"speed":903,"torque":8,"tilt":-15},{"level":74,"speed":905,"torque":7,"tilt":-15},{"level":72,"speed":907,"torque":6,"tilt":-15},{"level":70,"speed":909,"torque":5,"tilt":-15},{"level":60,"speed":915,"torque":2.5,"tilt":0},{"level":40,"speed":923,"torque":3,"tilt":0},{"level":10,"speed":924,"torque":3,"tilt":0},
{"level":86,"speed":1093,"torque":13.3,"tilt":0},{"level":84,"speed":1073,"torque":11.1,"tilt":0},{"level":82,"speed":1079,"torque":10,"tilt":0},{"level":80,"speed":1085,"torque":9,"tilt":0},{"level":78,"speed":1097,"torque":8.6,"tilt":0},{"level":76,"speed":1065,"torque":8,"tilt":-15},{"level":74,"speed":1067,"torque":7,"tilt":-15},{"level":72,"speed":1069,"torque":6,"tilt":-15},{"level":70,"speed":1071,"torque":5,"tilt":-15},{"level":60,"speed":1077,"torque":2.5,"tilt":0},{"level":60,"speed":1087,"torque":4,"tilt":0},{"level":10,"speed":1086,"torque":3,"tilt":0},
{"level":86,"speed":1254,"torque":13.3,"tilt":0},{"level":84,"speed":1234,"torque":11.1,"tilt":0},{"level":82,"speed":1240,"torque":10,"tilt":0},{"level":80,"speed":1246,"torque":9,"tilt":0},{"level":78,"speed":1258,"torque":8.6,"tilt":0},{"level":76,"speed":1226,"torque":8,"tilt":-15},{"level":74,"speed":1228,"torque":7,"tilt":-15},{"level":72,"speed":1230,"torque":6,"tilt":-15},{"level":70,"speed":1232,"torque":5,"tilt":-15},{"level":60,"speed":1238,"torque":2.5,"tilt":0},{"level":60,"speed":1248,"torque":4,"tilt":0},{"level":10,"speed":1247,"torque":3,"tilt":0},
{"level":86,"speed":1415,"torque":13.3,"tilt":0},{"level":84,"speed":1395,"torque":11.1,"tilt":0},{"level":82,"speed":1401,"torque":10,"tilt":0},{"level":80,"speed":1407,"torque":9,"tilt":0},{"level":78,"speed":1419,"torque":8.6,"tilt":0},{"level":76,"speed":1387,"torque":8,"tilt":-15},{"level":74,"speed":1389,"torque":7,"tilt":-15},{"level":72,"speed":1391,"torque":6,"tilt":-15},{"level":70,"speed":1393,"torque":5,"tilt":-15},{"level":60,"speed":1399,"torque":2.5,"tilt":0},{"level":60,"speed":1409,"torque":4,"tilt":0},{"level":10,"speed":1408,"torque":3,"tilt":0},
{"level":86,"speed":1576,"torque":13.3,"tilt":0},{"level":84,"speed":1556,"torque":11.1,"tilt":0},{"level":82,"speed":1562,"torque":10,"tilt":0},{"level":80,"speed":1568,"torque":9,"tilt":0},{"level":78,"speed":1580,"torque":8.6,"tilt":0},{"level":76,"speed":1548,"torque":8,"tilt":-15},{"level":74,"speed":1550,"torque":7,"tilt":-15},{"level":72,"speed":1552,"torque":6,"tilt":-15},{"level":70,"speed":1554,"torque":5,"tilt":-15},{"level":60,"speed":1560,"torque":2.5,"tilt":0},{"level":60,"speed":1570,"torque":4,"tilt":0},{"level":10,"speed":1569,"torque":3,"tilt":0}
]
},
"hconcat":[
{
"width":2252,"height":1294,
"title":{"text":"Total Efficiency of the HAFIS-NNN Machine","font":"Liberation Serif","fontSize":48,"fontWeight":"bold","color":"#000","anchor":"middle","offset":-15},
"resolve":{"axis":{"x":"independent","y":"independent"}},
"layer":[
{"data":{"name":"bands"},"mark":{"type":"area","interpolate":"monotone"},"encoding":{
"x":{"field":"speed","type":"quantitative","scale":{"domain":[0,1600],"nice":false,"zero":false},"axis":{"orient":"bottom","zindex":1,"values":[0,100,200,300,400,500,600,700,800,900,1000,1100,1200,1300,1400,1500,1600],"tickSize":-23,"labelPadding":35,"title":"Speed (rpm)","titlePadding":14}},
"y":{"field":"lo","type":"quantitative","scale":{"domain":[0,400],"nice":false,"zero":false},"axis":{"orient":"left","zindex":1,"values":[0,50,100,150,200,250,300,350,400],"tickSize":-23,"labelPadding":35,"title":"Torque (Nm)","titlePadding":4}},
"y2":{"field":"hi"},
"color":{"field":"level","type":"ordinal","legend":null,"scale":{"domain":[0,10,20,30,40,50,60,70,72,74,76,78,80,82,84,86,88,90,91,92,93],"range":["#3c259b","#4237d6","#4661fb","#2d86f2","#1aa9dc","#1fc0b1","#5dcc72","#c0c02a","#cdbd27","#e0b62d","#f0b634","#f9b63b","#fdbb38","#fdc830","#f9d42a","#f4dd24","#f2e420","#f5ed18","#f6f113","#f8f510","#f9f80d"]}}
}},
{"data":{"name":"bands"},"transform":[{"filter":"datum.level>0"}],"mark":{"type":"line","interpolate":"monotone","color":"#2f2f22","strokeWidth":1.4,"strokeOpacity":0.85},"encoding":{
"x":{"field":"speed","type":"quantitative","axis":null},"y":{"field":"hi","type":"quantitative","axis":null},"detail":[{"field":"level"},{"field":"seg"}]}},
{"data":{"name":"bands"},"transform":[{"filter":"datum.level>=60"}],"mark":{"type":"line","interpolate":"monotone","color":"#2f2f22","strokeWidth":1.2,"strokeOpacity":0.6},"encoding":{
"x":{"field":"speed","type":"quantitative","axis":null},"y":{"field":"lo","type":"quantitative","axis":null},"detail":{"field":"level"}}},
{"data":{"name":"labels"},"transform":[{"filter":"datum.torque>20 && datum.level>=72"}],"mark":{"type":"text","font":"Liberation Serif","fontSize":31,"strokeWidth":10,"strokeJoin":"round","fillOpacity":0,"align":"center","baseline":"middle"},"encoding":{
"x":{"field":"speed","type":"quantitative","axis":null},"y":{"field":"torque","type":"quantitative","axis":null},"text":{"field":"level","type":"nominal"},"angle":{"field":"tilt","type":"quantitative","scale":null},
"stroke":{"field":"level","type":"ordinal","legend":null,"scale":{"domain":[72,74,76,78,80,82,84,86,88,90,91,92,93],"range":["#cdbd27","#e0b62d","#f0b634","#f9b63b","#fdbb38","#fdc830","#f9d42a","#f4dd24","#f2e420","#f5ed18","#f6f113","#f8f510","#f9f80d"]}}}},
{"data":{"name":"limit"},"mark":{"type":"area","color":"white"},"encoding":{
"x":{"field":"speed","type":"quantitative","axis":{"orient":"top","zindex":1,"values":[0,100,200,300,400,500,600,700,800,900,1000,1100,1200,1300,1400,1500,1600],"tickSize":-23,"labels":false,"title":null}},
"y":{"field":"torque","type":"quantitative","axis":{"orient":"right","zindex":1,"values":[0,50,100,150,200,250,300,350,400],"tickSize":-23,"labels":false,"title":null}},
"y2":{"datum":400}}},
{"data":{"name":"limit"},"mark":{"type":"line","color":"#ff0000","strokeWidth":4},"encoding":{
"x":{"field":"speed","type":"quantitative","axis":null},"y":{"field":"torque","type":"quantitative","axis":null}}},
{"data":{"values":[{"speed":775,"torque":125}]},"mark":{"type":"point","filled":true,"fill":"#ff0000","stroke":"#5a1a00","strokeWidth":1.2,"opacity":1,"size":430},"encoding":{
"x":{"field":"speed","type":"quantitative","axis":null},"y":{"field":"torque","type":"quantitative","axis":null}}},
{"data":{"name":"labels"},"mark":{"type":"text","font":"Liberation Serif","fontSize":31,"color":"#000","align":"center","baseline":"middle"},"encoding":{
"x":{"field":"speed","type":"quantitative","axis":null},"y":{"field":"torque","type":"quantitative","axis":null},"text":{"field":"level","type":"nominal"},"angle":{"field":"tilt","type":"quantitative","scale":null}}},
{"data":{"name":"bottom_labels"},"mark":{"type":"text","font":"Liberation Serif","fontSize":31,"color":"#000","align":"center","baseline":"middle"},"encoding":{
"x":{"field":"speed","type":"quantitative","axis":null},"y":{"field":"torque","type":"quantitative","axis":null},"text":{"field":"level","type":"nominal"},"angle":{"field":"tilt","type":"quantitative","scale":null}}}
]
},
{
"width":24,"height":1294,
"data":{"values":[{"low":4.2,"high":93}]},
"mark":{"type":"rect","stroke":"#555555","strokeWidth":1.5,"fill":{"gradient":"linear","x1":0,"y1":1,"x2":0,"y2":0,"stops":[{"offset":0,"color":"#3c2597"},{"offset":0.065,"color":"#3f2cab"},{"offset":0.122,"color":"#4337d0"},{"offset":0.178,"color":"#4757f0"},{"offset":0.234,"color":"#3c72f8"},{"offset":0.291,"color":"#2d87f3"},{"offset":0.347,"color":"#2499e4"},{"offset":0.403,"color":"#1aa9d9"},{"offset":0.459,"color":"#07b7c6"},{"offset":0.482,"color":"#00bcbc"},{"offset":0.516,"color":"#1cc0ae"},{"offset":0.572,"color":"#3ac892"},{"offset":0.628,"color":"#5ccc74"},{"offset":0.685,"color":"#90c955"},{"offset":0.741,"color":"#c3bc2c"},{"offset":0.797,"color":"#e6b631"},{"offset":0.853,"color":"#feb53a"},{"offset":0.909,"color":"#fdcf2e"},{"offset":0.966,"color":"#f5e522"},{"offset":1,"color":"#fbfc0e"}]}},
"encoding":{
"y":{"field":"low","type":"quantitative","scale":{"domain":[4.2,93],"nice":false,"zero":false},"axis":{"orient":"right","zindex":1,"values":[10,20,30,40,50,60,70,80,90],"tickSize":-13,"tickWidth":1.5,"tickColor":"#333333","domain":false,"labelPadding":27,"labelFontSize":35,"title":"Efficiency (%)","titleFontSize":37,"titleAngle":270,"titleBaseline":"top","titlePadding":8}},
"y2":{"field":"high"}
}
}
]
}
